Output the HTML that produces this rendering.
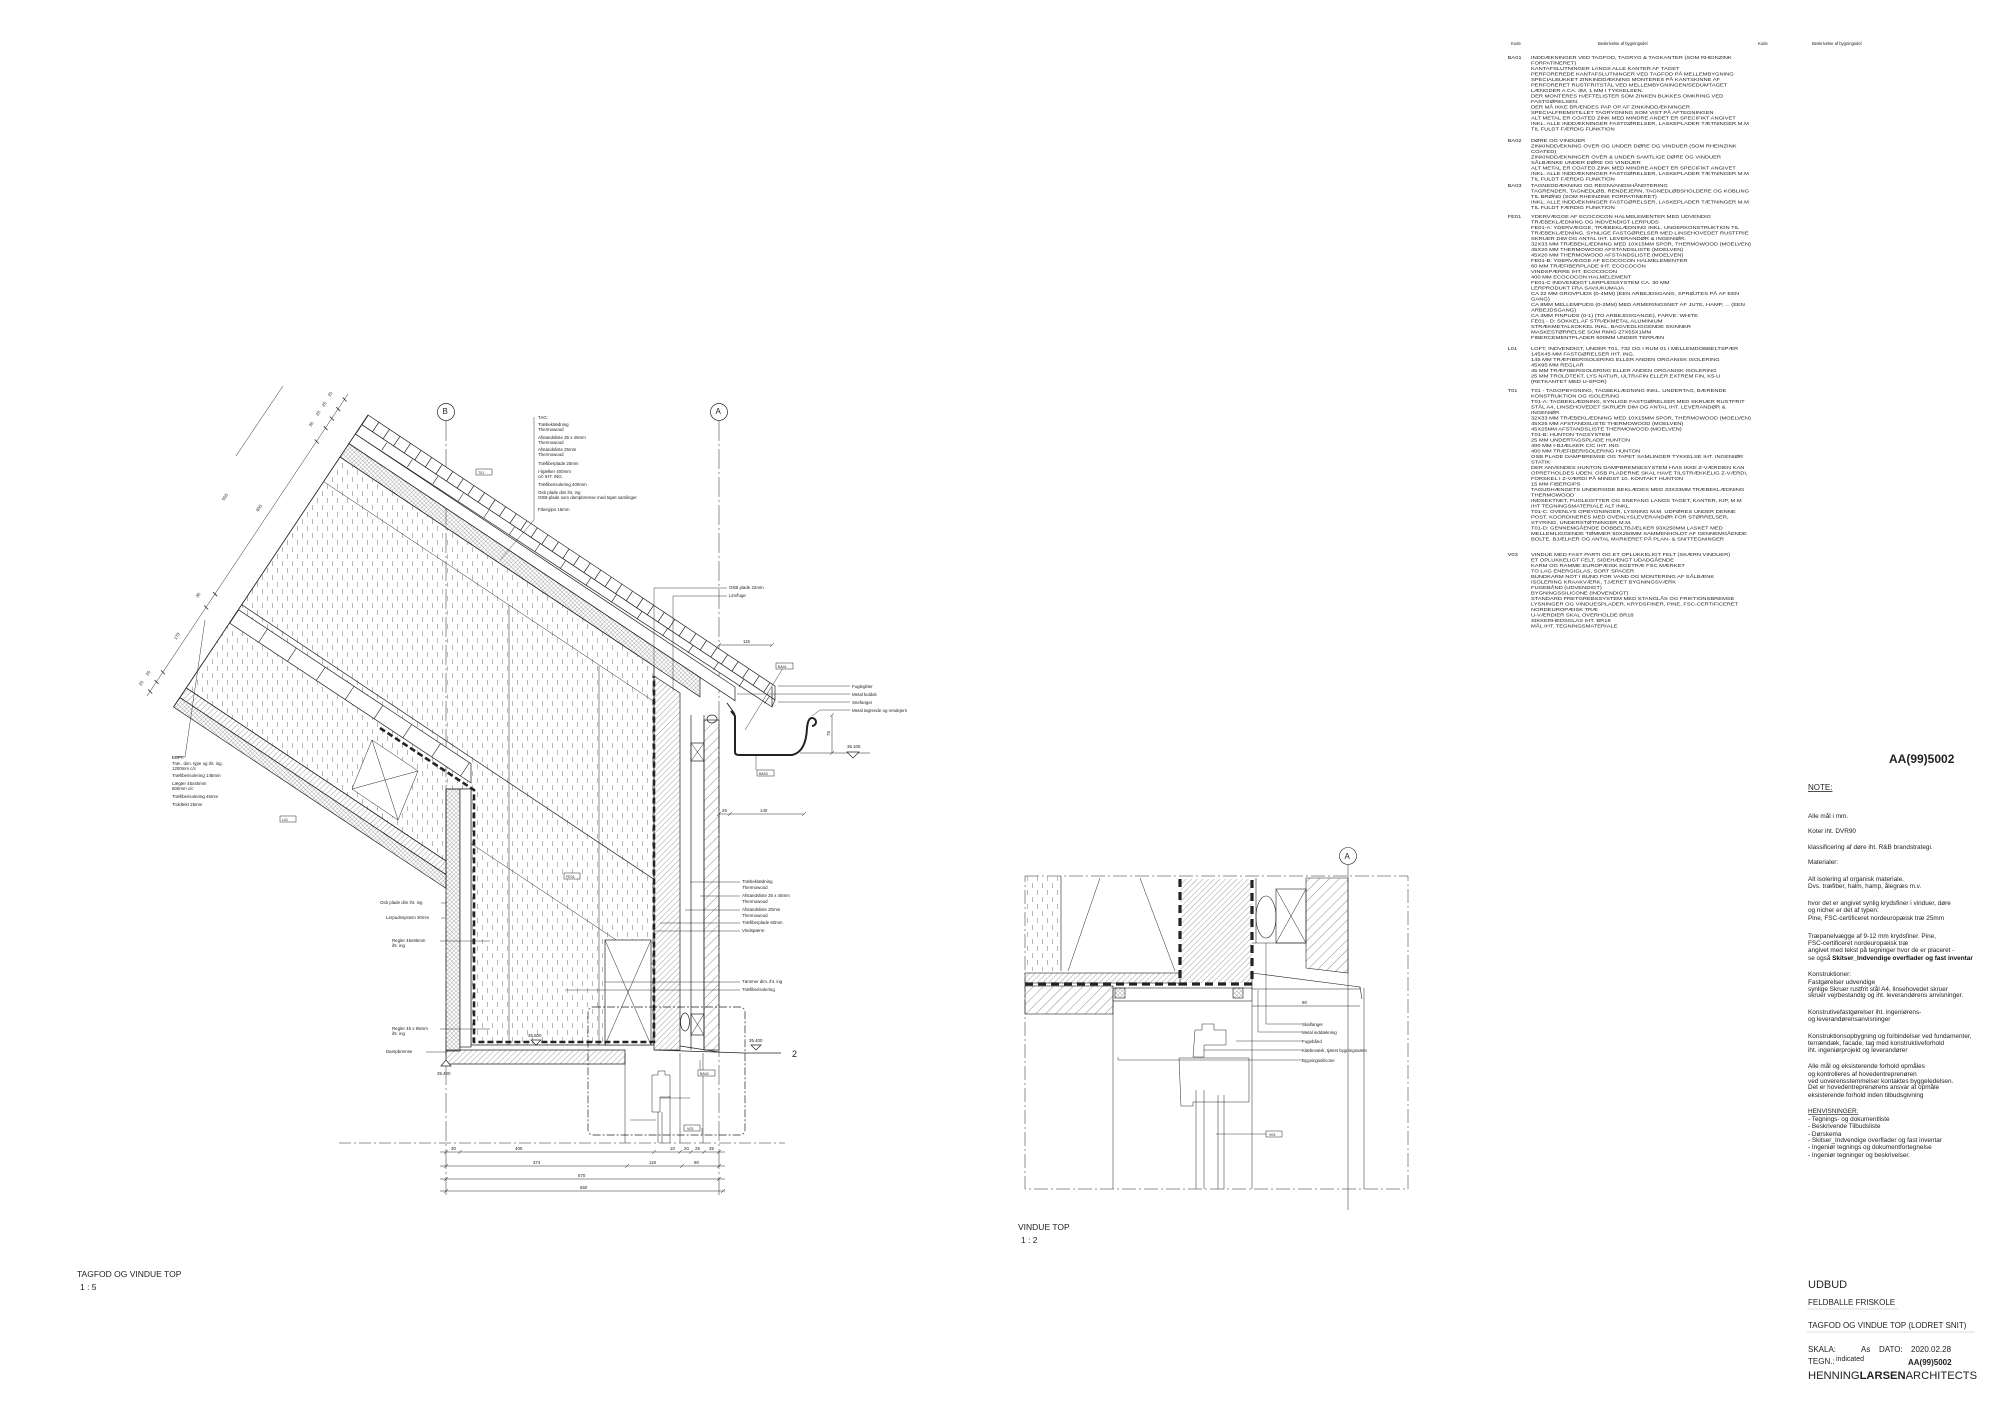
<!DOCTYPE html>
<html><head><meta charset="utf-8"><style>
html,body{margin:0;padding:0;background:#fff;}
svg{display:block;}
text{font-family:"Liberation Sans",sans-serif;fill:#222;}
</style></head><body>
<svg width="2000" height="1413" viewBox="0 0 2000 1413" xmlns="http://www.w3.org/2000/svg">
<defs>
<pattern id="ins" width="10" height="14" patternUnits="userSpaceOnUse"><path d="M2.5 1v5M7.5 8v5" stroke="#9a9a9a" stroke-width="0.7"/></pattern>
<pattern id="h" width="4" height="4" patternUnits="userSpaceOnUse" patternTransform="rotate(45)"><line x1="0" y1="0" x2="0" y2="4" stroke="#444" stroke-width="0.5"/></pattern>
<pattern id="h2" width="7" height="7" patternUnits="userSpaceOnUse" patternTransform="rotate(45)"><line x1="0" y1="0" x2="0" y2="7" stroke="#444" stroke-width="0.6"/></pattern>
<pattern id="x" width="3" height="3" patternUnits="userSpaceOnUse" patternTransform="rotate(45)"><path d="M0 0V3M0 0H3" stroke="#444" stroke-width="0.4"/></pattern>
</defs>

<g fill="none" stroke="#222" stroke-width="0.7">
<line x1="446" y1="421" x2="446" y2="1195" stroke-dasharray="20 3 2 3" stroke-width="0.5"/>
<line x1="719" y1="421" x2="719" y2="1195" stroke-dasharray="20 3 2 3" stroke-width="0.5"/>
<circle cx="446" cy="412" r="8.5" fill="#fff"/>
<circle cx="719" cy="412" r="8.5" fill="#fff"/>

<polygon points="340,457 654,666 654,1045 471,1045 471,789 446,789 446,861 186.3,687.9" fill="url(#ins)"/>
<line x1="241.7" y1="604.7" x2="654" y2="879.3"/>
<line x1="323.7" y1="481.6" x2="654" y2="701.6" stroke-width="0.5"/>
<line x1="509" y1="605" x2="509" y2="1045" stroke-width="0.5"/>
<line x1="599" y1="666" x2="599" y2="1045" stroke-width="0.5"/>
<line x1="471" y1="843.5" x2="654" y2="965" stroke-width="0.5"/>
<rect x="605" y="940" width="46" height="105" fill="#fff"/>
<path d="M605 940L651 1045M651 940L605 1045" stroke-width="0.5"/>
<path d="M372 740 L418 771 L398 820 L352 789Z M372 740 L398 820 M418 771 L352 789" stroke-width="0.5" fill="#fff"/>

<polygon points="368,415 775,686.1 775,699.9 361.6,424.6" fill="#fff"/>
<line x1="364.8" y1="419.8" x2="775" y2="693" stroke-width="11.5" stroke-dasharray="0.7 12"/>
<polygon points="361.6,424.6 775,699.9 772,707 355.3,434.1" fill="#fff"/>
<line x1="358.5" y1="429.4" x2="772" y2="703" stroke-width="9" stroke-dasharray="0.6 30"/>
<polygon points="355.3,434.1 735,687 735,700.7 348.9,443.6" fill="#fff"/>
<polygon points="348.9,443.6 700,677.5 700,696.8 340,457" fill="url(#x)"/>
<line x1="772" y1="687" x2="772" y2="707"/>

<polygon points="238.4,609.7 471,763.7 471,782.9 229.5,623" fill="#fff"/>
<line x1="234" y1="616.3" x2="471" y2="773.3" stroke-width="16" stroke-dasharray="0.6 34"/>
<polygon points="186.3,687.9 446,860.8 446,874.6 179.9,697.5" fill="url(#h)"/>
<polygon points="179.9,697.5 446,874.6 446,888.4 173.5,707" fill="url(#x)"/>
<line x1="368" y1="415" x2="173.5" y2="707"/>

<path d="M380 728 L474 790 L474 1042 L654 1042 L654 676" stroke-width="2.6" stroke-dasharray="6 3"/>

<rect x="446" y="789" width="14" height="262" fill="url(#x)"/>
<rect x="460" y="789" width="11" height="258" fill="#fff"/>

<polygon points="654,676 680,693 680,1050 654,1050" fill="url(#h)"/>
<line x1="691" y1="715" x2="691" y2="1050"/>
<line x1="704" y1="715" x2="704" y2="1050"/>
<rect x="704" y="720" width="15" height="330" fill="url(#h2)"/>
<rect x="691" y="743" width="13" height="18"/><path d="M691 743L704 761M704 743L691 761" stroke-width="0.5"/>
<rect x="691" y="1014" width="13" height="21"/><path d="M691 1014L704 1035M704 1014L691 1035" stroke-width="0.5"/>
<ellipse cx="712" cy="719" rx="5" ry="4"/>
<ellipse cx="685" cy="1022" rx="4.5" ry="9"/>

<path d="M731 711 L735 716 L735 752 Q735 755 739 755 L792 755 Q806 752 807 728 Q808 718 812 718 A4 4 0 1 1 812 726" stroke-width="2"/>
<line x1="727" y1="703" x2="735" y2="714" stroke-width="1"/>

<polygon points="446,1050 625,1050 625,1064 446,1064" fill="url(#h)"/>
<line x1="654" y1="1050" x2="744" y2="1053"/>
<line x1="680" y1="1046" x2="719" y2="1052"/>
<line x1="744" y1="1053" x2="781" y2="1053"/>

<rect x="588" y="1007" width="157" height="128" rx="5" stroke-dasharray="8 2 2 2"/>
<line x1="625" y1="1053" x2="625" y2="1143" stroke-width="0.5"/>
<line x1="680" y1="1053" x2="680" y2="1143" stroke-width="0.5"/>
<line x1="703" y1="1053" x2="703" y2="1143" stroke-width="0.5"/>
<path d="M652 1075h6v-4h7v4h5v22h-10v15h-8z" stroke-width="0.5"/>
<line x1="658" y1="1112" x2="658" y2="1143" stroke-width="0.5"/>
<line x1="662" y1="1112" x2="662" y2="1143" stroke-width="0.5"/>
<line x1="670" y1="1096" x2="670" y2="1143" stroke-width="0.5"/>
<line x1="339" y1="1143" x2="785" y2="1143" stroke-dasharray="12 3 2 3" stroke-width="0.5"/>

<line x1="348" y1="394" x2="147" y2="696" stroke-width="0.5"/>
<g stroke-width="0.8">
<path d="M342.7 397.5l4 4M336.3 407.1l4 4M330 416.6l4 4M323.6 426.1l4 4M314.7 439.5l4 4M213.1 592.2l4 4M204.2 605.5l4 4M161 670.4l4 4M154.6 680l4 4M148.2 689.5l4 4"/>
</g>
<line x1="283" y1="386" x2="236" y2="456" stroke-width="0.5"/>

<g stroke-width="0.5">
<line x1="440" y1="1152" x2="725" y2="1152"/>
<line x1="440" y1="1166" x2="725" y2="1166"/>
<line x1="440" y1="1179" x2="725" y2="1179"/>
<line x1="440" y1="1191" x2="725" y2="1191"/>
<path d="M444 1154l4-4M458 1154l4-4M652 1154l4-4M678 1154l4-4M689 1154l4-4M702 1154l4-4M717 1154l4-4M444 1168l4-4M625 1168l4-4M680 1168l4-4M717 1168l4-4M444 1181l4-4M717 1181l4-4M444 1193l4-4M721 1193l4-4"/>
<line x1="719" y1="645" x2="772" y2="645"/><path d="M717 647l4-4M770 647l4-4"/>
<line x1="719" y1="814" x2="804" y2="814"/><path d="M717 816l4-4M728 816l4-4M802 816l4-4"/>
<line x1="832" y1="715" x2="832" y2="753"/><path d="M830 717l4-4M830 755l4-4"/>
<line x1="800" y1="753" x2="870" y2="753"/>
</g>
<path d="M847 752h12l-6 6z" fill="#fff"/>
<path d="M531 1040h10l-5 5z" fill="#fff"/>
<path d="M751 1045h10l-5 5z" fill="#fff"/>
<path d="M441 1066l5-6 5 6z" fill="#fff"/>

<g stroke-width="0.45">
<path d="M534 417 V520 L500 560"/>
<path d="M654 676 V588 H727"/>
<path d="M673 690 V596 H727"/>
<path d="M778 686 H850M737 694 H850M778 702 H850M812 716 L820 710 H850"/>
<path d="M745 730 L783 668"/>
<path d="M756 755 V770"/>
<path d="M446 903 h-5M446 918 h-5M490 941 h-50M490 1029 h-50M446 1052 h-20"/>
<path d="M690 882 H740M700 896 H740M685 910 H740M660 923 H740M654 931 H740M605 982 H740M565 990 H740"/>
<path d="M205 620 L185 757 H172"/>
<path d="M660 1098 H690 M630 1120 H656"/>
<path d="M702 1135 V1128M700 1060 V1072"/>
</g>
<g fill="#fff" stroke-width="0.5">
<rect x="476" y="469" width="16" height="6"/>
<rect x="280" y="816" width="16" height="6"/>
<rect x="564" y="873" width="16" height="6"/>
<rect x="776" y="663" width="17" height="6"/>
<rect x="757" y="770" width="17" height="6"/>
<rect x="698" y="1070" width="17" height="6"/>
<rect x="684" y="1125" width="16" height="6"/>
</g>
</g>

<g font-size="4.4">
<text x="442.5" y="414" font-size="8">B</text>
<text x="715.5" y="414" font-size="8">A</text>
<text x="478" y="474" font-size="3.6">T01</text>
<text x="282" y="821" font-size="3.6">L01</text>
<text x="566" y="878" font-size="3.6">FE01</text>
<text x="778" y="668" font-size="3.6">BA01</text>
<text x="759" y="775" font-size="3.6">BA03</text>
<text x="700" y="1075" font-size="3.6">BA02</text>
<text x="687" y="1130" font-size="3.6">V03</text>
<text x="538" y="419">TAG:</text>
<text x="538" y="426">Træbeklædning</text>
<text x="538" y="431">Thermowood</text>
<text x="538" y="439">Afstandsliste 25 x 45mm</text>
<text x="538" y="444">Thermowood</text>
<text x="538" y="451">Afstandsliste 25mm</text>
<text x="538" y="456">Thermowood</text>
<text x="538" y="465">Træfiberplade 25mm</text>
<text x="538" y="473">I-bjælker 400mm</text>
<text x="538" y="478">c/c IHT. ING.</text>
<text x="538" y="486">Træfiberisolering 400mm</text>
<text x="538" y="494">Osb plade dim iht. ing</text>
<text x="538" y="499">OSB-plade som dampbremse med tapet samlinger</text>
<text x="538" y="511">Fibergips 15mm</text>
<text x="172" y="759">LOFT:</text>
<text x="172" y="765">Træ.. dim. type og iht. ing.</text>
<text x="172" y="770">1200mm c/c</text>
<text x="172" y="777">Træfiberisolering 145mm</text>
<text x="172" y="785">Lægter 45x45mm</text>
<text x="172" y="790">600mm c/c</text>
<text x="172" y="798">Træfiberisolering 45mm</text>
<text x="172" y="806">Troldtekt 25mm</text>
<text x="380" y="904">Osb plade dim iht. ing</text>
<text x="386" y="919">Lerpudssystem 30mm</text>
<text x="392" y="942">Regler 45x95mm</text>
<text x="392" y="947">iht. ing</text>
<text x="392" y="1030">Regler 45 x 95mm</text>
<text x="392" y="1035">iht. ing</text>
<text x="386" y="1053">Dampbremse</text>
<text x="742" y="883">Træbeklædning</text>
<text x="742" y="889">Thermowood</text>
<text x="742" y="897">Afstandsliste 25 x 45mm</text>
<text x="742" y="903">Thermowood</text>
<text x="742" y="911">Afstandsliste 20mm</text>
<text x="742" y="917">Thermowood</text>
<text x="742" y="924">Træfiberplade 60mm</text>
<text x="742" y="932">Vindspærre</text>
<text x="742" y="983">Tømmer dim. iht. ing</text>
<text x="742" y="991">Træfiberisolering</text>
<text x="729" y="589">OSB plade 22mm</text>
<text x="729" y="597">Lim/fuge</text>
<text x="852" y="688">Fuglegitter</text>
<text x="852" y="696">Metal kuldok</text>
<text x="852" y="704">Snefanger</text>
<text x="852" y="712">Metal tagrende og rendejern</text>
<text x="847" y="748">36.105</text>
<text x="528" y="1037">35.500</text>
<text x="749" y="1042">35.400</text>
<text x="437" y="1075">35.400</text>
<text x="830" y="736" transform="rotate(-90 830 736)">75</text>
<text x="743" y="643">115</text>
<text x="722" y="812">25</text>
<text x="760" y="812">140</text>
<text x="792" y="1057" font-size="9">2</text>
<text x="451" y="1150">30</text>
<text x="515" y="1150">400</text>
<text x="670" y="1150">10</text>
<text x="684" y="1150">20</text>
<text x="695" y="1150">25</text>
<text x="709" y="1150">35</text>
<text x="533" y="1164">374</text>
<text x="649" y="1164">118</text>
<text x="694" y="1164">90</text>
<text x="578" y="1177">570</text>
<text x="580" y="1189">660</text>
<text x="330" y="397" transform="rotate(-56.3 330 397)">25</text>
<text x="324" y="407" transform="rotate(-56.3 324 407)">25</text>
<text x="318" y="416" transform="rotate(-56.3 318 416)">25</text>
<text x="311" y="427" transform="rotate(-56.3 311 427)">35</text>
<text x="258" y="512" transform="rotate(-56.3 258 512)">400</text>
<text x="224" y="501" transform="rotate(-56.3 224 501)">550</text>
<text x="198" y="598" transform="rotate(-56.3 198 598)">35</text>
<text x="176" y="640" transform="rotate(-56.3 176 640)">170</text>
<text x="148" y="676" transform="rotate(-56.3 148 676)">25</text>
<text x="141" y="686" transform="rotate(-56.3 141 686)">25</text>
</g>
<text x="77" y="1277" font-size="8.5">TAGFOD OG VINDUE TOP</text>
<text x="80" y="1290" font-size="8.5">1 : 5</text>

<g fill="none" stroke="#222" stroke-width="0.6">
<line x1="1348" y1="864" x2="1348" y2="1210" stroke-width="0.5"/>
<circle cx="1348" cy="856" r="8.5" fill="#fff"/>
<rect x="1025" y="876" width="383" height="313" stroke-dasharray="14 3 2 3" stroke-width="0.5"/>
<rect x="1025" y="876" width="36" height="95" fill="url(#ins)" stroke="none"/>
<line x1="1061" y1="876" x2="1061" y2="971"/>
<line x1="1100" y1="878" x2="1068" y2="971" stroke-width="0.5"/>
<line x1="1140" y1="878" x2="1175" y2="971" stroke-width="0.5"/>
<rect x="1025" y="973" width="155" height="10" fill="url(#h)"/>
<rect x="1180" y="879" width="72" height="104" fill="url(#h)" stroke="none"/>
<path d="M1180 879 V984 H1252 V879" stroke-width="3.2" stroke-dasharray="8 5"/>
<line x1="1025" y1="984" x2="1180" y2="984" stroke-width="3.2" stroke-dasharray="8 5"/>
<rect x="1025" y="986" width="88" height="28" fill="url(#h2)"/>
<ellipse cx="1266" cy="917" rx="10" ry="21"/>
<rect x="1276" y="889" width="30" height="54"/>
<path d="M1276 889L1306 943M1306 889L1276 943" stroke-width="0.5"/>
<line x1="1252" y1="943" x2="1306" y2="943"/>
<line x1="1256" y1="878" x2="1256" y2="943"/>
<polygon points="1306,878 1348,878 1348,973 1306,968" fill="url(#h2)"/>
<polygon points="1252,973 1360,987 1360,989 1252,989"/>
<line x1="1360" y1="987" x2="1362" y2="999"/>
<rect x="1113" y="988" width="139" height="13"/>
<rect x="1115" y="988" width="10" height="10" fill="url(#x)"/>
<rect x="1233" y="988" width="10" height="10" fill="url(#x)"/>
<line x1="1113" y1="1001" x2="1113" y2="1189" stroke-width="0.5"/>
<line x1="1252" y1="1001" x2="1252" y2="1189" stroke-width="0.5"/>
<path d="M1195 1030h7v-6h12v6h12v15h-22v12h-11z" stroke-width="0.5"/>
<path d="M1179 1058h70v44h-56v4h-12z" stroke-width="0.5"/>
<line x1="1196" y1="1090" x2="1196" y2="1189" stroke-width="0.5"/>
<line x1="1204" y1="1090" x2="1204" y2="1189" stroke-width="0.5"/>
<line x1="1218" y1="1095" x2="1218" y2="1189" stroke-width="0.5"/>
<line x1="1224" y1="1095" x2="1224" y2="1189" stroke-width="0.5"/>
<line x1="1364" y1="988" x2="1364" y2="1189" stroke-width="0.5"/>
<line x1="1252" y1="1006" x2="1360" y2="1006" stroke-width="0.5"/>
<g stroke-width="0.45">
<path d="M1266 943 V1024 H1302M1258 990 V1032 H1302M1236 1041 H1302M1204 1050 H1302M1118 1057 V1060 H1302M1216 1134 H1266"/>
</g>
<rect x="1266" y="1131" width="16" height="6" fill="#fff" stroke-width="0.5"/>
</g>
<g font-size="4.4">
<text x="1344.5" y="859" font-size="8">A</text>
<text x="1302" y="1026">Skalfanger</text>
<text x="1302" y="1034">Metal inddækning</text>
<text x="1302" y="1043">Fugebånd</text>
<text x="1302" y="1052">Klæbeværk, tjæret bygningsværn</text>
<text x="1302" y="1062">Bygningssilicone</text>
<text x="1302" y="1004">90</text>
<text x="1269" y="1136" font-size="3.6">V03</text>
</g>
<text x="1018" y="1230" font-size="8.5">VINDUE TOP</text>
<text x="1021" y="1243" font-size="8.5">1 : 2</text>

<g font-size="4.2" fill="#222">
<text x="1511" y="45">Kode</text>
<text x="1598" y="45">Beskrivelse af bygningsdel</text>
<text x="1758" y="45">Kode</text>
<text x="1812" y="45">Beskrivelse af bygningsdel</text>
</g>
<g font-size="4.4" fill="#222" transform="translate(1531 0) scale(1.3 1) translate(-1531 0)">
<text x="1513" y="59">BA01</text>
<text x="1531" y="59">INDDÆKNINGER VED TAGFOD, TAGRYG &amp; TAGKANTER (SOM RHEINZINK</text>
<text x="1531" y="64.5">FORPATINERET)</text>
<text x="1531" y="70">KANTAFSLUTNINGER LANGS ALLE KANTER AF TAGET</text>
<text x="1531" y="75.5">PERFOREREDE KANTAFSLUTNINGER VED TAGFOD PÅ MELLEMBYGNING</text>
<text x="1531" y="81">SPECIALBUKKET ZINKINDDÆKNING MONTERES PÅ KANTSKINNE AF</text>
<text x="1531" y="86.5">PERFORERET RUSTFRITSTÅL VED MELLEMBYGNINGEN/SEDUMTAGET</text>
<text x="1531" y="92">LÆNGDER A CA. 3M, 1 MM I TYKKELSEN.</text>
<text x="1531" y="97.5">DER MONTERES HÆFTELISTER SOM ZINKEN BUKKES OMKRING VED</text>
<text x="1531" y="103">FASTGØRELSEN.</text>
<text x="1531" y="108.5">DER MÅ IKKE BRÆNDES PAP OP AF ZINKINDDÆKNINGER</text>
<text x="1531" y="114">SPECIALFREMSTILLET TAGRYGNING SOM VIST PÅ AFTEGNINGEN</text>
<text x="1531" y="119.5">ALT METAL ER COATED ZINK MED MINDRE ANDET ER SPECIFIKT ANGIVET</text>
<text x="1531" y="125">INKL. ALLE INDDÆKNINGER FASTGØRELSER, LASKEPLADER TÆTNINGER M.M</text>
<text x="1531" y="130.5">TIL FULDT FÆRDIG FUNKTION</text>
<text x="1513" y="142">BA02</text>
<text x="1531" y="142">DØRE OG VINDUER</text>
<text x="1531" y="147.5">ZINKINDDÆKNING OVER OG UNDER DØRE OG VINDUER (SOM RHEINZINK</text>
<text x="1531" y="153">COATED)</text>
<text x="1531" y="158.5">ZINKINDDÆKNINGER OVER &amp; UNDER SAMTLIGE DØRE OG VINDUER</text>
<text x="1531" y="164">SÅLBÆNKE UNDER DØRE OG VINDUER</text>
<text x="1531" y="169.5">ALT METAL ER COATED ZINK MED MINDRE ANDET ER SPECIFIKT ANGIVET</text>
<text x="1531" y="175">INKL. ALLE INDDÆKNINGER FASTGØRELSER, LASKEPLADER TÆTNINGER M.M</text>
<text x="1531" y="180.5">TIL FULDT FÆRDIG FUNKTION</text>
<text x="1513" y="187">BA03</text>
<text x="1531" y="187">TAGNEDDÆKNING OG REGNVANDSHÅNDTERING</text>
<text x="1531" y="192.5">TAGRENDER, TAGNEDLØB, RENDEJERN, TAGNEDLØBSHOLDERE OG KOBLING</text>
<text x="1531" y="198">TIL BRØND (SOM RHEINZINK FORPATINERET)</text>
<text x="1531" y="203.5">INKL. ALLE INDDÆKNINGER FASTGØRELSER, LASKEPLADER TÆTNINGER M.M</text>
<text x="1531" y="209">TIL FULDT FÆRDIG FUNKTION</text>
<text x="1513" y="218">FE01</text>
<text x="1531" y="218">YDERVÆGGE AF ECOCOCON HALMELEMENTER MED UDVENDIG</text>
<text x="1531" y="223.5">TRÆBEKLÆDNING OG INDVENDIGT LERPUDS</text>
<text x="1531" y="229">FE01-A: YDERVÆGGE, TRÆBEKLÆDNING INKL. UNDERKONSTRUKTION TIL</text>
<text x="1531" y="234.5">TRÆBEKLÆDNING. SYNLIGE FASTGØRELSER MED LINSEHOVEDET RUSTFRIE</text>
<text x="1531" y="240">SKRUER DIM OG ANTAL IHT. LEVERANDØR &amp; INGENIØR.</text>
<text x="1531" y="245.5">32X33 MM TRÆBEKLÆDNING MED 10X15MM SPOR, THERMOWOOD (MOELVEN)</text>
<text x="1531" y="251">45X20 MM THERMOWOOD AFSTANDSLISTE (MOELVEN)</text>
<text x="1531" y="256.5">45X20 MM THERMOWOOD AFSTANDSLISTE (MOELVEN)</text>
<text x="1531" y="262">FE01-B: YDERVÆGGE AF ECOCOCON HALMELEMENTER</text>
<text x="1531" y="267.5">60 MM TRÆFIBERPLADE IHT. ECOCOCON</text>
<text x="1531" y="273">VINDSPÆRRE IHT. ECOCOCON</text>
<text x="1531" y="278.5">400 MM ECOCOCON HALMELEMENT</text>
<text x="1531" y="284">FE01-C INDVENDIGT LERPUDSSYSTEM CA. 30 MM</text>
<text x="1531" y="289.5">LERPRODUKT FRA SAVIUKUMAJA</text>
<text x="1531" y="295">CA 22 MM GROVPUDS (0-4MM) (EEN ARBEJDSGANG, SPRØJTES PÅ AF EEN</text>
<text x="1531" y="300.5">GANG)</text>
<text x="1531" y="306">CA 8MM MELLEMPUDS (0-2MM) MED ARMERINGSNET AF JUTE, HAMP, ... (EEN</text>
<text x="1531" y="311.5">ARBEJDSGANG)</text>
<text x="1531" y="317">CA 3MM FINPUDS (0-1) (TO ARBEJDSGANGE), FARVE: WHITE</text>
<text x="1531" y="322.5">FE01 - D: SOKKEL AF STRÆKMETAL ALUMINIUM</text>
<text x="1531" y="328">STRÆKMETALSOKKEL INKL. BAGVEDLIGGENDE SKINNER</text>
<text x="1531" y="333.5">MASKESTØRRELSE SOM RMIG 27X55X1MM</text>
<text x="1531" y="339">FIBERCEMENTPLADER 600MM UNDER TERRÆN</text>
<text x="1513" y="350">L01</text>
<text x="1531" y="350">LOFT, INDVENDIGT, UNDER T01, 732 OG I RUM 01 I MELLEMDOBBELTSPÆR</text>
<text x="1531" y="355.5">145X45 MM FASTGØRELSER IHT. ING.</text>
<text x="1531" y="361">145 MM TRÆFIBERISOLERING ELLER ANDEN ORGANISK ISOLERING</text>
<text x="1531" y="366.5">45X95 MM REGLAR</text>
<text x="1531" y="372">45 MM TRÆFIBERISOLERING ELLER ANDEN ORGANISK ISOLERING</text>
<text x="1531" y="377.5">25 MM TROLDTEKT, LYS NATUR, ULTRAFIN ELLER EXTREM FIN, K5-U</text>
<text x="1531" y="383">(RETKANTET MED U-SPOR)</text>
<text x="1513" y="392">T01</text>
<text x="1531" y="392">T01 - TAGOPBYGNING, TAGBEKLÆDNING INKL. UNDERTAG, BÆRENDE</text>
<text x="1531" y="397.5">KONSTRUKTION OG ISOLERING</text>
<text x="1531" y="403">T01-A: TAGBEKLÆDNING, SYNLIGE FASTGØRELSER MED SKRUER RUSTFRIT</text>
<text x="1531" y="408.5">STÅL A4, LINSEHOVEDET SKRUER DIM OG ANTAL IHT. LEVERANDØR &amp;</text>
<text x="1531" y="414">INGENIØR</text>
<text x="1531" y="419.5">32X33 MM TRÆBEKLÆDNING MED 10X15MM SPOR, THERMOWOOD (MOELVEN)</text>
<text x="1531" y="425">45X25 MM AFSTANDSLISTE THERMOWOOD (MOELVEN)</text>
<text x="1531" y="430.5">45X25MM AFSTANDSLISTE THERMOWOOD (MOELVEN)</text>
<text x="1531" y="436">T01-B: HUNTON TAGSYSTEM</text>
<text x="1531" y="441.5">25 MM UNDERTAGSPLADE HUNTON</text>
<text x="1531" y="447">400 MM I-BJÆLKER C/C IHT. ING</text>
<text x="1531" y="452.5">400 MM TRÆFIBERISOLERING HUNTON</text>
<text x="1531" y="458">OSB PLADE DAMPBREMSE OG TAPET SAMLINGER TYKKELSE IHT. INGENIØR</text>
<text x="1531" y="463.5">STATIK</text>
<text x="1531" y="469">DER ANVENDES HUNTON DAMPBREMSESYSTEM HVIS IKKE Z-VÆRDIEN KAN</text>
<text x="1531" y="474.5">OPRETHOLDES UDEN. OSB PLADERNE SKAL HAVE TILSTRÆKKELIG Z-VÆRDI,</text>
<text x="1531" y="480">FORSKEL I Z-VÆRDI PÅ MINDST 10. KONTAKT HUNTON</text>
<text x="1531" y="485.5">15 MM FIBERGIPS</text>
<text x="1531" y="491">TAGUDHÆNGETS UNDERSIDE BEKLÆDES MED 33X33MM TRÆBEKLÆDNING</text>
<text x="1531" y="496.5">THERMOWOOD</text>
<text x="1531" y="502">INDSEKTNET, FUGLEGITTER OG SNEFANG LANGS TAGET, KANTER, KIP, M.M</text>
<text x="1531" y="507.5">IHT TEGNINGSMATERIALE ALT INKL.</text>
<text x="1531" y="513">T01-C: OVENLYS OPBYGNINGER, LYSNING M.M. UDFØRES UNDER DENNE</text>
<text x="1531" y="518.5">POST. KOORDINERES MED OVENLYSLEVERANDØR FOR STØRRELSER,</text>
<text x="1531" y="524">STYRING, UNDERSTØTNINGER M.M.</text>
<text x="1531" y="529.5">T01-D: GENNEMGÅENDE DOBBELTBJÆLKER 93X250MM LASKET MED</text>
<text x="1531" y="535">MELLEMLIGGENDE TØMMER 50X250MM SAMMENHOLDT AF GENNEMGÅENDE</text>
<text x="1531" y="540.5">BOLTE. BJÆLKER OG ANTAL MARKERET PÅ PLAN- &amp; SNITTEGNINGER</text>
<text x="1513" y="556">V03</text>
<text x="1531" y="556">VINDUE MED FAST PARTI OG ET OPLUKKELIGT FELT (SKÆRN VINDUER)</text>
<text x="1531" y="561.5">ET OPLUKKELIGT FELT, SIDEHÆNGT UDADGÅENDE</text>
<text x="1531" y="567">KARM OG RAMME EUROPÆISK EGETRÆ FSC MÆRKET</text>
<text x="1531" y="572.5">TO LAG ENERGIGLAS, SORT SPACER</text>
<text x="1531" y="578">BUNDKARM NOT I BUND FOR VAND OG MONTERING AF SÅLBÆNK</text>
<text x="1531" y="583.5">ISOLERING KRAAKVÆRK, TJÆRET BYGNINGSVÆRK</text>
<text x="1531" y="589">FUGEBÅND (UDVENDIGT)</text>
<text x="1531" y="594.5">BYGNINGSSILICONE (INDVENDIGT)</text>
<text x="1531" y="600">STANDARD FRETGREBSSYSTEM MED STANGLÅS OG FRIKTIONSBREMSE</text>
<text x="1531" y="605.5">LYSNINGER OG VINDUESPLADER, KRYDSFINER, PINE, FSC-CERTIFICERET</text>
<text x="1531" y="611">NORDEUROPÆISK TRÆ</text>
<text x="1531" y="616.5">U-VÆRDIER SKAL OVERHOLDE BR18</text>
<text x="1531" y="622">SIKKERHEDSGLAS IHT. BR18</text>
<text x="1531" y="627.5">MÅL IHT. TEGNINGSMATERIALE</text>
</g>

<text x="1889" y="763" font-size="12" font-weight="bold" fill="#111">AA(99)5002</text>
<g font-size="6.4" fill="#333">
<text x="1808" y="790" font-size="8" text-decoration="underline">NOTE:</text>
<text x="1808" y="818">Alle mål i mm.</text>
<text x="1808" y="833">Koter iht. DVR90</text>
<text x="1808" y="849">klassificering af døre iht. R&amp;B brandstrategi.</text>
<text x="1808" y="864">Materialer:</text>
<text x="1808" y="881">Alt isolering af organisk materiale.</text>
<text x="1808" y="888">Dvs. træfiber, halm, hamp, ålegræs m.v.</text>
<text x="1808" y="905">hvor det er angivet synlig krydsfiner i vinduer, døre</text>
<text x="1808" y="912">og nicher er det af typen:</text>
<text x="1808" y="920">Pine, FSC-certificeret nordeuropæisk træ 25mm</text>
<text x="1808" y="938">Træpanelvægge af 9-12 mm krydsfiner. Pine,</text>
<text x="1808" y="945">FSC-certificeret nordeuropæisk træ</text>
<text x="1808" y="952">angivet med tekst på tegninger hvor de er placeret -</text>
<text x="1808" y="960">se også <tspan font-weight="bold" fill="#111">Skitser_Indvendige overflader og fast inventar</tspan></text>
<text x="1808" y="976">Konstruktioner:</text>
<text x="1808" y="984">Fastgørelser udvendige</text>
<text x="1808" y="991">synlige Skruer rustfrit stål A4, linsehovedet skruer</text>
<text x="1808" y="997">skruer vejrbestandig og iht. leverandørens anvisninger.</text>
<text x="1808" y="1014">Konstrutivefastgørelser iht. ingeniørens-</text>
<text x="1808" y="1021">og leverandørensanvisninger</text>
<text x="1808" y="1038">Konstruktionsopbygning og forbindelser ved fundamenter,</text>
<text x="1808" y="1045">terrændæk, facade, tag med konstruktiveforhold</text>
<text x="1808" y="1052">iht. ingeniørprojekt og leverandører</text>
<text x="1808" y="1068">Alle mål og eksisterende forhold opmåles</text>
<text x="1808" y="1076">og kontrolleres af hovedentreprenøren</text>
<text x="1808" y="1083">ved uoverensstemmelser kontaktes byggeledelsen.</text>
<text x="1808" y="1089">Det er hovedentreprenørens ansvar at opmåle</text>
<text x="1808" y="1097">eksisterende forhold inden tilbudsgivning</text>
<text x="1808" y="1113" text-decoration="underline">HENVISNINGER:</text>
<text x="1808" y="1121"> - Tegnings- og dokumentliste</text>
<text x="1808" y="1128"> - Beskrivende Tilbudsliste</text>
<text x="1808" y="1136"> - Dørskema</text>
<text x="1808" y="1142"> - Skitser_Indvendige overflader og fast inventar</text>
<text x="1808" y="1149"> - Ingeniør tegnings og dokumentfortegnelse</text>
<text x="1808" y="1157"> - Ingeniør tegninger og beskrivelser.</text>
</g>

<g fill="#222">
<text x="1808" y="1288" font-size="11">UDBUD</text>
<text x="1808" y="1305" font-size="8">FELDBALLE FRISKOLE</text>
<line x1="1807" y1="1309" x2="1898" y2="1309" stroke="#bbb" stroke-width="0.6"/>
<text x="1808" y="1328" font-size="8">TAGFOD OG VINDUE TOP  (LODRET SNIT)</text>
<line x1="1807" y1="1332" x2="1975" y2="1332" stroke="#bbb" stroke-width="0.6"/>
<text x="1808" y="1352" font-size="8">SKALA:</text>
<text x="1861" y="1352" font-size="8">As</text>
<text x="1879" y="1352" font-size="8">DATO:</text>
<text x="1911" y="1352" font-size="8">2020.02.28</text>
<text x="1808" y="1364" font-size="8">TEGN.:</text>
<text x="1836" y="1361" font-size="7">indicated</text>
<text x="1908" y="1365" font-size="8" font-weight="bold">AA(99)5002</text>
<text x="1808" y="1379" font-size="11.2">HENNING<tspan font-weight="bold">LARSEN</tspan>ARCHITECTS</text>
</g>
</svg>
</body></html>
